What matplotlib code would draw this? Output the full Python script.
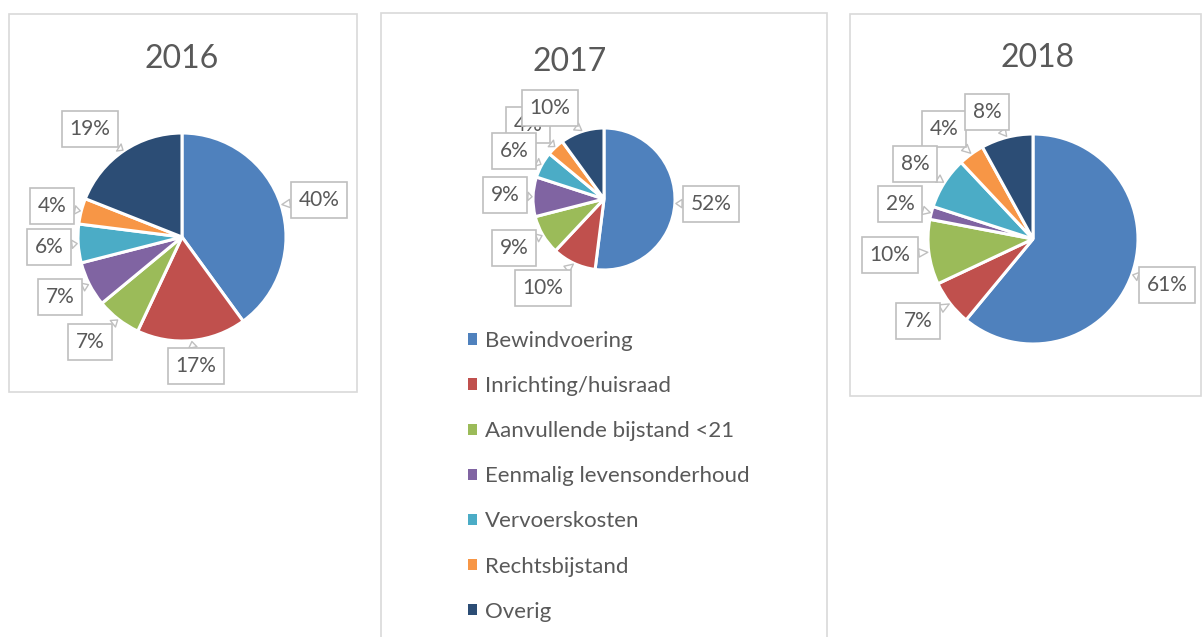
import numpy as np
import matplotlib.pyplot as plt
from matplotlib.patches import Rectangle, Patch

# ----- data -----
categories = ['Bewindvoering', 'Inrichting/huisraad', 'Aanvullende bijstand <21',
              'Eenmalig levensonderhoud', 'Vervoerskosten', 'Rechtsbijstand', 'Overig']
years = ['2016', '2017', '2018']
share_2016 = [40, 17, 7, 7, 6, 4, 19]
share_2017 = [52, 10, 9, 9, 6, 4, 10]
share_2018 = [61, 7, 10, 2, 8, 4, 8]
shares = [share_2016, share_2017, share_2018]

colors = ['#4F81BD', '#C0504D', '#9BBB59', '#8064A2', '#4BACC6', '#F79646', '#2C4D75']
text_grey = '#595959'
box_grey = '#BFBFBF'

# ----- layout (pixels, origin top-left) -----
W, H = 1202, 637
panels = [(9, 14, 357, 392), (381, 13, 827, 660), (850, 14, 1201, 396)]
pie_layout = [(182, 237, 104), (604, 199, 71), (1033, 239, 105)]
title_pos = [(182, 59), (570, 62), (1038, 58)]
label_pos = [
    [(319, 200), (196, 366), (90, 342), (60, 297), (49, 247), (52, 206), (90, 129)],
    [(711, 204), (543, 288), (514, 248), (505, 195), (514, 151), (528, 125), (550, 108)],
    [(1167, 285), (918, 321), (890, 255), (900, 204), (915, 164), (944, 129), (987, 112)],
]
# draw order of the labels (later = on top), mainly for the crowded 2017 pie
label_z = [5, 5, 5, 5, 6, 4, 7]

plt.rcParams['font.family'] = ['Lato', 'DejaVu Sans']

fig = plt.figure(figsize=(W / 100, H / 100), dpi=100)
ax = fig.add_axes([0, 0, 1, 1])

def fy(y):
    # flip pixel y (top-left origin) to data y
    return H - y

# panel frames
for (x0, y0, x1, y1) in panels:
    ax.add_patch(Rectangle((x0, fy(y1)), x1 - x0, y1 - y0, fill=False,
                           edgecolor='#D9D9D9', linewidth=1.2, zorder=0))

for k in range(3):
    cx, cy, r = pie_layout[k]
    vals = shares[k]
    ax.pie(vals, colors=colors, startangle=90, counterclock=False,
           center=(cx, fy(cy)), radius=r, frame=True,
           wedgeprops=dict(edgecolor='white', linewidth=2.2))

    # title
    tx, ty = title_pos[k]
    ax.text(tx, fy(ty), years[k], ha='center', va='center', fontsize=23,
            color=text_grey)

    # callout data labels
    total = float(sum(vals))
    start = 90.0
    for i, v in enumerate(vals):
        mid = start - 360.0 * v / total / 2
        start -= 360.0 * v / total
        tip = (cx + (r + 1) * np.cos(np.deg2rad(mid)),
               fy(cy) + (r + 1) * np.sin(np.deg2rad(mid)))
        bx, by = label_pos[k][i]
        ax.annotate('%d%%' % v, xy=tip, xytext=(bx, fy(by)),
                    ha='center', va='center', fontsize=15, color=text_grey,
                    bbox=dict(boxstyle='square,pad=0.38', fc='white',
                              ec=box_grey, lw=1.2),
                    arrowprops=dict(arrowstyle='wedge,tail_width=0.4',
                                    fc='white', ec=box_grey, lw=1.0,
                                    shrinkA=0, shrinkB=0),
                    zorder=label_z[i])

ax.set_xlim(0, W)
ax.set_ylim(0, H)
ax.set_aspect('auto')
ax.axis('off')

# legend inside the 2017 panel
handles = [Patch(facecolor=c, edgecolor='none') for c in colors]
leg = ax.legend(handles, categories, loc='upper left',
                bbox_to_anchor=(468 / W, 1 - 331 / H),
                frameon=False, fontsize=16, handlelength=0.41, handleheight=0.41,
                handletextpad=0.36, labelspacing=1.13, borderpad=0,
                borderaxespad=0)
for t in leg.get_texts():
    t.set_color(text_grey)

plt.savefig('out.png', dpi=100)
